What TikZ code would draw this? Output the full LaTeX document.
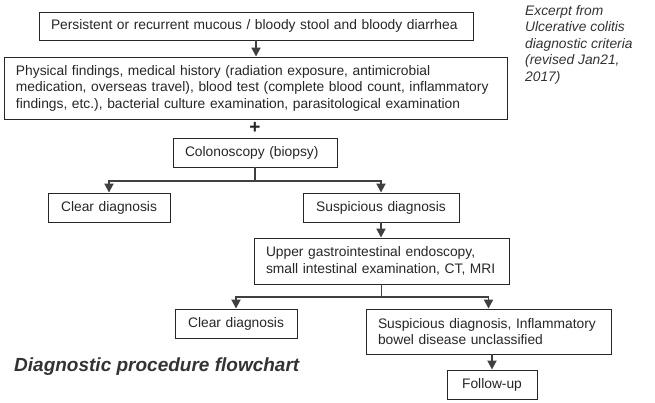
\documentclass[tikz,border=0pt]{standalone}
\usepackage{fontspec}
\setmainfont{Liberation Sans}
\usetikzlibrary{arrows.meta}
\tikzset{
  stepbox/.style={draw=black!85, line width=0.9pt, text=black!85, align=left,
    inner xsep=12pt, inner ysep=0pt, font=\fontsize{13.8}{16.5}\selectfont},
  flow/.style={draw=black!75, line width=1.9pt, -{Triangle[width=9pt,length=9pt]}},
  branch/.style={draw=black!75, line width=1.9pt},
}
\begin{document}
\begin{tikzpicture}[x=1pt, y=-1pt]
    \useasboundingbox (0,0) rectangle (655,402);
    \node[stepbox, text width=410pt, minimum height=28pt] (sym) at (256,26)
        {Persistent or recurrent mucous / bloody stool and bloody diarrhea};
    \node[stepbox, text width=479pt, minimum height=62pt] (exam) at (255.5,88)
        {Physical findings, medical history (radiation exposure, antimicrobial\\
         medication, overseas travel), blood test (complete blood count, inflammatory\\
         findings, etc.), bacterial culture examination, parasitological examination};
    \node[text=black!85, inner sep=0pt, font=\fontsize{19}{19}\selectfont\bfseries] (plus) at (255,128) {+};
    \node[stepbox, text width=140pt, minimum height=29pt] (colon) at (255,152.5) {Colonoscopy (biopsy)};
    \node[stepbox, align=center, text width=98pt, minimum height=29pt] (clear1) at (109,207.5) {Clear diagnosis};
    \node[stepbox, align=center, text width=132pt, minimum height=29pt] (susp1) at (381,207.5) {Suspicious diagnosis};
    \node[stepbox, text width=231pt, minimum height=46pt] (imaging) at (381.5,261)
        {Upper gastrointestinal endoscopy,\\ small intestinal examination, CT, MRI};
    \node[stepbox, align=center, text width=98pt, minimum height=29pt] (clear2) at (236,323.5) {Clear diagnosis};
    \node[stepbox, text width=221pt, minimum height=45pt] (ibdu) at (488.5,331.5)
        {Suspicious diagnosis, Inflammatory\\ bowel disease unclassified};
    \node[stepbox, align=center, text width=66pt, minimum height=29pt] (follow) at (492,384.5) {Follow-up};
    % source note and title
    \node[anchor=north west, align=left, inner sep=0pt, text=black!80,
        font=\fontsize{13.8}{16.5}\selectfont\itshape] (src) at (525,5)
        {Excerpt from\\ Ulcerative colitis\\ diagnostic criteria\\ (revised Jan21,\\ 2017)};
    \node[anchor=west, inner sep=0pt, text=black!80,
        font=\fontsize{19}{19}\selectfont\bfseries\itshape] (title) at (14,367)
        {Diagnostic procedure flowchart};
    % connectors
    \draw[flow] (sym.south) -- (sym.south |- exam.north);
    \coordinate (fork1) at (colon.south |- 0,181);
    \draw[branch] (colon.south) -- (fork1);
    \draw[flow] (fork1) -| (clear1.north);
    \draw[flow] (fork1) -| (susp1.north);
    \draw[flow] (susp1.south) -- (susp1.south |- imaging.north);
    \coordinate (fork2) at (imaging.south |- 0,297);
    \draw[branch] (imaging.south) -- (fork2);
    \draw[flow] (fork2) -| (clear2.north);
    \draw[flow] (fork2) -| (ibdu.north);
    \draw[flow] (follow.north |- ibdu.south) -- (follow.north);
\end{tikzpicture}
\end{document}
